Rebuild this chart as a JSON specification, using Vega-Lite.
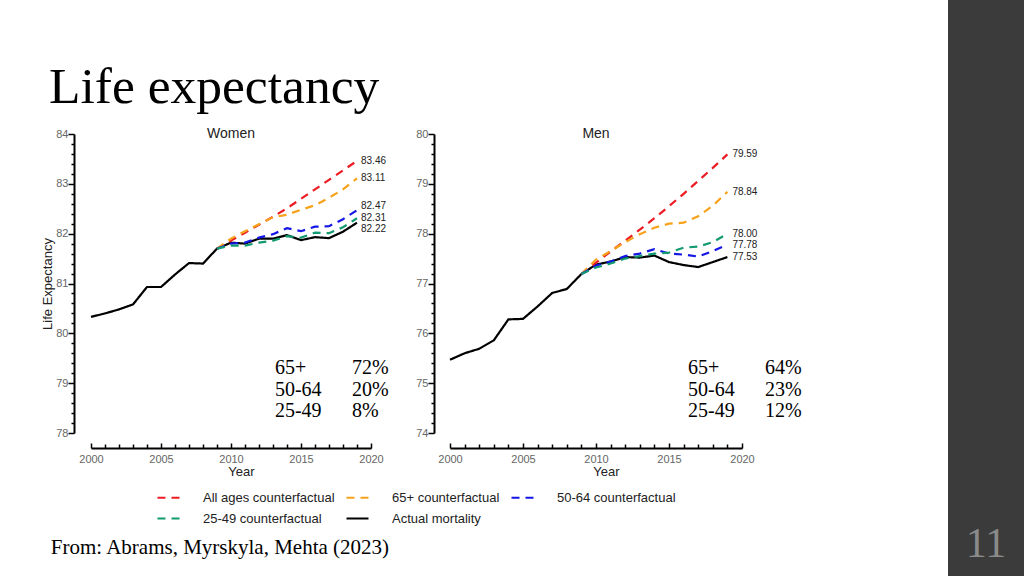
{
  "$schema": "https://vega.github.io/schema/vega-lite/v6.json",
  "padding": {"left": 41, "top": 0, "right": 0, "bottom": 0},
  "background": "white",
  "spacing": 146,
  "resolve": {"scale": {"color": "independent", "strokeDash": "independent"}, "legend": {"color": "independent", "strokeDash": "independent"}},
  "datasets": {
    "le": [
      {"sex": "Women", "series": "Actual mortality", "year": 2000, "le": 80.33},
      {"sex": "Women", "series": "Actual mortality", "year": 2001, "le": 80.40},
      {"sex": "Women", "series": "Actual mortality", "year": 2002, "le": 80.48},
      {"sex": "Women", "series": "Actual mortality", "year": 2003, "le": 80.58},
      {"sex": "Women", "series": "Actual mortality", "year": 2004, "le": 80.93},
      {"sex": "Women", "series": "Actual mortality", "year": 2005, "le": 80.93},
      {"sex": "Women", "series": "Actual mortality", "year": 2006, "le": 81.18},
      {"sex": "Women", "series": "Actual mortality", "year": 2007, "le": 81.41},
      {"sex": "Women", "series": "Actual mortality", "year": 2008, "le": 81.40},
      {"sex": "Women", "series": "Actual mortality", "year": 2009, "le": 81.70},
      {"sex": "Women", "series": "Actual mortality", "year": 2010, "le": 81.82},
      {"sex": "Women", "series": "Actual mortality", "year": 2011, "le": 81.80},
      {"sex": "Women", "series": "Actual mortality", "year": 2012, "le": 81.90},
      {"sex": "Women", "series": "Actual mortality", "year": 2013, "le": 81.90},
      {"sex": "Women", "series": "Actual mortality", "year": 2014, "le": 81.97},
      {"sex": "Women", "series": "Actual mortality", "year": 2015, "le": 81.87},
      {"sex": "Women", "series": "Actual mortality", "year": 2016, "le": 81.93},
      {"sex": "Women", "series": "Actual mortality", "year": 2017, "le": 81.91},
      {"sex": "Women", "series": "Actual mortality", "year": 2018, "le": 82.04},
      {"sex": "Women", "series": "Actual mortality", "year": 2019, "le": 82.22},
      {"sex": "Women", "series": "All ages counterfactual", "year": 2009, "le": 81.70},
      {"sex": "Women", "series": "All ages counterfactual", "year": 2010, "le": 81.86},
      {"sex": "Women", "series": "All ages counterfactual", "year": 2011, "le": 82.02},
      {"sex": "Women", "series": "All ages counterfactual", "year": 2012, "le": 82.18},
      {"sex": "Women", "series": "All ages counterfactual", "year": 2013, "le": 82.34},
      {"sex": "Women", "series": "All ages counterfactual", "year": 2014, "le": 82.51},
      {"sex": "Women", "series": "All ages counterfactual", "year": 2015, "le": 82.70},
      {"sex": "Women", "series": "All ages counterfactual", "year": 2016, "le": 82.89},
      {"sex": "Women", "series": "All ages counterfactual", "year": 2017, "le": 83.08},
      {"sex": "Women", "series": "All ages counterfactual", "year": 2018, "le": 83.27},
      {"sex": "Women", "series": "All ages counterfactual", "year": 2019, "le": 83.46},
      {"sex": "Women", "series": "65+ counterfactual", "year": 2009, "le": 81.70},
      {"sex": "Women", "series": "65+ counterfactual", "year": 2010, "le": 81.90},
      {"sex": "Women", "series": "65+ counterfactual", "year": 2011, "le": 82.05},
      {"sex": "Women", "series": "65+ counterfactual", "year": 2012, "le": 82.19},
      {"sex": "Women", "series": "65+ counterfactual", "year": 2013, "le": 82.33},
      {"sex": "Women", "series": "65+ counterfactual", "year": 2014, "le": 82.38},
      {"sex": "Women", "series": "65+ counterfactual", "year": 2015, "le": 82.48},
      {"sex": "Women", "series": "65+ counterfactual", "year": 2016, "le": 82.57},
      {"sex": "Women", "series": "65+ counterfactual", "year": 2017, "le": 82.72},
      {"sex": "Women", "series": "65+ counterfactual", "year": 2018, "le": 82.89},
      {"sex": "Women", "series": "65+ counterfactual", "year": 2019, "le": 83.11},
      {"sex": "Women", "series": "50-64 counterfactual", "year": 2009, "le": 81.70},
      {"sex": "Women", "series": "50-64 counterfactual", "year": 2010, "le": 81.80},
      {"sex": "Women", "series": "50-64 counterfactual", "year": 2011, "le": 81.82},
      {"sex": "Women", "series": "50-64 counterfactual", "year": 2012, "le": 81.92},
      {"sex": "Women", "series": "50-64 counterfactual", "year": 2013, "le": 81.99},
      {"sex": "Women", "series": "50-64 counterfactual", "year": 2014, "le": 82.11},
      {"sex": "Women", "series": "50-64 counterfactual", "year": 2015, "le": 82.05},
      {"sex": "Women", "series": "50-64 counterfactual", "year": 2016, "le": 82.14},
      {"sex": "Women", "series": "50-64 counterfactual", "year": 2017, "le": 82.15},
      {"sex": "Women", "series": "50-64 counterfactual", "year": 2018, "le": 82.29},
      {"sex": "Women", "series": "50-64 counterfactual", "year": 2019, "le": 82.47},
      {"sex": "Women", "series": "25-49 counterfactual", "year": 2009, "le": 81.70},
      {"sex": "Women", "series": "25-49 counterfactual", "year": 2010, "le": 81.76},
      {"sex": "Women", "series": "25-49 counterfactual", "year": 2011, "le": 81.76},
      {"sex": "Women", "series": "25-49 counterfactual", "year": 2012, "le": 81.82},
      {"sex": "Women", "series": "25-49 counterfactual", "year": 2013, "le": 81.86},
      {"sex": "Women", "series": "25-49 counterfactual", "year": 2014, "le": 81.95},
      {"sex": "Women", "series": "25-49 counterfactual", "year": 2015, "le": 81.92},
      {"sex": "Women", "series": "25-49 counterfactual", "year": 2016, "le": 82.02},
      {"sex": "Women", "series": "25-49 counterfactual", "year": 2017, "le": 82.01},
      {"sex": "Women", "series": "25-49 counterfactual", "year": 2018, "le": 82.13},
      {"sex": "Women", "series": "25-49 counterfactual", "year": 2019, "le": 82.31},
      {"sex": "Men", "series": "Actual mortality", "year": 2000, "le": 75.47},
      {"sex": "Men", "series": "Actual mortality", "year": 2001, "le": 75.60},
      {"sex": "Men", "series": "Actual mortality", "year": 2002, "le": 75.69},
      {"sex": "Men", "series": "Actual mortality", "year": 2003, "le": 75.86},
      {"sex": "Men", "series": "Actual mortality", "year": 2004, "le": 76.28},
      {"sex": "Men", "series": "Actual mortality", "year": 2005, "le": 76.29},
      {"sex": "Men", "series": "Actual mortality", "year": 2006, "le": 76.54},
      {"sex": "Men", "series": "Actual mortality", "year": 2007, "le": 76.81},
      {"sex": "Men", "series": "Actual mortality", "year": 2008, "le": 76.89},
      {"sex": "Men", "series": "Actual mortality", "year": 2009, "le": 77.19},
      {"sex": "Men", "series": "Actual mortality", "year": 2010, "le": 77.38},
      {"sex": "Men", "series": "Actual mortality", "year": 2011, "le": 77.44},
      {"sex": "Men", "series": "Actual mortality", "year": 2012, "le": 77.53},
      {"sex": "Men", "series": "Actual mortality", "year": 2013, "le": 77.52},
      {"sex": "Men", "series": "Actual mortality", "year": 2014, "le": 77.56},
      {"sex": "Men", "series": "Actual mortality", "year": 2015, "le": 77.43},
      {"sex": "Men", "series": "Actual mortality", "year": 2016, "le": 77.37},
      {"sex": "Men", "series": "Actual mortality", "year": 2017, "le": 77.33},
      {"sex": "Men", "series": "Actual mortality", "year": 2018, "le": 77.43},
      {"sex": "Men", "series": "Actual mortality", "year": 2019, "le": 77.53},
      {"sex": "Men", "series": "All ages counterfactual", "year": 2009, "le": 77.19},
      {"sex": "Men", "series": "All ages counterfactual", "year": 2010, "le": 77.42},
      {"sex": "Men", "series": "All ages counterfactual", "year": 2011, "le": 77.64},
      {"sex": "Men", "series": "All ages counterfactual", "year": 2012, "le": 77.86},
      {"sex": "Men", "series": "All ages counterfactual", "year": 2013, "le": 78.08},
      {"sex": "Men", "series": "All ages counterfactual", "year": 2014, "le": 78.31},
      {"sex": "Men", "series": "All ages counterfactual", "year": 2015, "le": 78.55},
      {"sex": "Men", "series": "All ages counterfactual", "year": 2016, "le": 78.80},
      {"sex": "Men", "series": "All ages counterfactual", "year": 2017, "le": 79.06},
      {"sex": "Men", "series": "All ages counterfactual", "year": 2018, "le": 79.32},
      {"sex": "Men", "series": "All ages counterfactual", "year": 2019, "le": 79.59},
      {"sex": "Men", "series": "65+ counterfactual", "year": 2009, "le": 77.19},
      {"sex": "Men", "series": "65+ counterfactual", "year": 2010, "le": 77.48},
      {"sex": "Men", "series": "65+ counterfactual", "year": 2011, "le": 77.65},
      {"sex": "Men", "series": "65+ counterfactual", "year": 2012, "le": 77.83},
      {"sex": "Men", "series": "65+ counterfactual", "year": 2013, "le": 77.99},
      {"sex": "Men", "series": "65+ counterfactual", "year": 2014, "le": 78.12},
      {"sex": "Men", "series": "65+ counterfactual", "year": 2015, "le": 78.20},
      {"sex": "Men", "series": "65+ counterfactual", "year": 2016, "le": 78.22},
      {"sex": "Men", "series": "65+ counterfactual", "year": 2017, "le": 78.35},
      {"sex": "Men", "series": "65+ counterfactual", "year": 2018, "le": 78.56},
      {"sex": "Men", "series": "65+ counterfactual", "year": 2019, "le": 78.84},
      {"sex": "Men", "series": "50-64 counterfactual", "year": 2009, "le": 77.19},
      {"sex": "Men", "series": "50-64 counterfactual", "year": 2010, "le": 77.36},
      {"sex": "Men", "series": "50-64 counterfactual", "year": 2011, "le": 77.44},
      {"sex": "Men", "series": "50-64 counterfactual", "year": 2012, "le": 77.55},
      {"sex": "Men", "series": "50-64 counterfactual", "year": 2013, "le": 77.60},
      {"sex": "Men", "series": "50-64 counterfactual", "year": 2014, "le": 77.69},
      {"sex": "Men", "series": "50-64 counterfactual", "year": 2015, "le": 77.60},
      {"sex": "Men", "series": "50-64 counterfactual", "year": 2016, "le": 77.58},
      {"sex": "Men", "series": "50-64 counterfactual", "year": 2017, "le": 77.54},
      {"sex": "Men", "series": "50-64 counterfactual", "year": 2018, "le": 77.65},
      {"sex": "Men", "series": "50-64 counterfactual", "year": 2019, "le": 77.78},
      {"sex": "Men", "series": "25-49 counterfactual", "year": 2009, "le": 77.19},
      {"sex": "Men", "series": "25-49 counterfactual", "year": 2010, "le": 77.32},
      {"sex": "Men", "series": "25-49 counterfactual", "year": 2011, "le": 77.40},
      {"sex": "Men", "series": "25-49 counterfactual", "year": 2012, "le": 77.50},
      {"sex": "Men", "series": "25-49 counterfactual", "year": 2013, "le": 77.55},
      {"sex": "Men", "series": "25-49 counterfactual", "year": 2014, "le": 77.60},
      {"sex": "Men", "series": "25-49 counterfactual", "year": 2015, "le": 77.62},
      {"sex": "Men", "series": "25-49 counterfactual", "year": 2016, "le": 77.72},
      {"sex": "Men", "series": "25-49 counterfactual", "year": 2017, "le": 77.74},
      {"sex": "Men", "series": "25-49 counterfactual", "year": 2018, "le": 77.83},
      {"sex": "Men", "series": "25-49 counterfactual", "year": 2019, "le": 78.00}
    ]
  },
  "config": {
    "view": {"stroke": null},
    "font": "Liberation Sans",
    "axis": {
      "grid": false,
      "labelFont": "Liberation Sans",
      "labelFontSize": 11,
      "labelColor": "#666666",
      "titleFont": "Liberation Sans",
      "titleFontSize": 13,
      "titleFontWeight": "normal",
      "titleColor": "#222222",
      "domainColor": "#000000",
      "domainWidth": 2,
      "tickColor": "#000000",
      "tickWidth": 1.5,
      "labelOverlap": false,
      "labelFlush": false
    },
    "legend": {
      "orient": "none",
      "legendX": 65,
      "legendY": 351,
      "direction": "horizontal",
      "columns": 3,
      "labelFont": "Liberation Sans",
      "labelFontSize": 13,
      "labelColor": "#222222",
      "symbolType": "stroke",
      "symbolSize": 484,
      "symbolStrokeWidth": 2.2,
      "labelOffset": 22,
      "columnPadding": 7,
      "rowPadding": 1,
      "labelLimit": 300
    }
  },
  "hconcat": [
    {
      "bounds": "flush",
      "spacing": 0,
      "resolve": {"scale": {"color": "independent", "strokeDash": "independent"}, "legend": {"color": "independent", "strokeDash": "independent"}},
      "vconcat": [
        {
          "width": 700,
          "height": 134,
          "data": {"values": [{}]},
          "mark": {"type": "rect", "opacity": 0},
          "title": {
            "text": "Life expectancy",
            "orient": "bottom",
            "anchor": "start",
            "baseline": "alphabetic",
            "font": "Liberation Serif",
            "fontSize": 51.5,
            "fontWeight": "normal",
            "color": "#000000",
            "offset": -31,
            "dx": -42
          }
        },
        {
          "title": {
            "text": "From: Abrams, Myrskyla, Mehta (2023)",
            "orient": "bottom",
            "anchor": "start",
            "baseline": "alphabetic",
            "font": "Liberation Serif",
            "fontSize": 21,
            "fontWeight": "normal",
            "color": "#000000",
            "offset": 28,
            "dx": 9
          },
          "data": {"name": "le"},
          "spacing": 79,
          "bounds": "flush",
          "resolve": {
            "scale": {"color": "shared", "strokeDash": "shared"},
            "legend": {"color": "shared", "strokeDash": "shared"}
          },
          "hconcat": [
            {
              "width": 280,
              "height": 299,
              "title": {"text": "Women", "font": "Liberation Sans", "fontSize": 14, "fontWeight": "normal", "color": "#222222", "offset": -13},
              "layer": [
                {
                  "transform": [{"filter": "datum.sex == 'Women' && datum.series == 'Actual mortality'"}],
                  "mark": {"type": "line", "strokeWidth": 2.2},
                  "encoding": {
                    "x": {
                      "field": "year", "type": "quantitative",
                      "scale": {"domain": [2000, 2020], "nice": false, "zero": false},
                      "axis": {
                        "title": "Year",
                        "values": [2000,2001,2002,2003,2004,2005,2006,2007,2008,2009,2010,2011,2012,2013,2014,2015,2016,2017,2018,2019,2020],
                        "tickCount": 100,
                        "labelExpr": "datum.value % 5 == 0 ? format(datum.value, 'd') : ''",
                        "labelOverlap": false,
                        "offset": 15,
                        "tickSize": {"condition": {"test": "datum.value % 5 == 0", "value": -5}, "value": -4},
                        "labelPadding": 10,
                        "titlePadding": 0,
                        "titleX": 150
                      }
                    },
                    "y": {
                      "field": "le", "type": "quantitative",
                      "scale": {"domain": [78, 84], "nice": false, "zero": false},
                      "axis": {
                        "title": "Life Expectancy",
                        "values": [78,78.2,78.4,78.6,78.8,79,79.2,79.4,79.6,79.8,80,80.2,80.4,80.6,80.8,81,81.2,81.4,81.6,81.8,82,82.2,82.4,82.6,82.8,83,83.2,83.4,83.6,83.8,84],
                        "tickCount": 100,
                        "labelExpr": "abs(datum.value - round(datum.value)) < 0.01 ? format(datum.value, 'd') : ''",
                        "labelOverlap": false,
                        "offset": 17,
                        "tickSize": {"condition": {"test": "abs(datum.value - round(datum.value)) < 0.01", "value": 6}, "value": 3},
                        "labelPadding": 0,
                        "titlePadding": 1
                      }
                    },
                    "color": {
                      "field": "series", "type": "nominal", "title": null,
                      "scale": {
                        "domain": ["All ages counterfactual", "65+ counterfactual", "50-64 counterfactual", "25-49 counterfactual", "Actual mortality"],
                        "range": ["#ec1c24", "#f7a21b", "#1515e6", "#139a70", "#000000"]
                      }
                    },
                    "strokeDash": {
                      "field": "series", "type": "nominal", "title": null,
                      "scale": {
                        "domain": ["All ages counterfactual", "65+ counterfactual", "50-64 counterfactual", "25-49 counterfactual", "Actual mortality"],
                        "range": [[8, 6], [8, 6], [8, 6], [8, 6], [1, 0]]
                      }
                    }
                  }
                },
                {
                  "transform": [{"filter": "datum.sex == 'Women' && datum.series != 'Actual mortality'"}],
                  "mark": {"type": "line", "strokeWidth": 2.2},
                  "encoding": {
                    "x": {"field": "year", "type": "quantitative"},
                    "y": {"field": "le", "type": "quantitative"},
                    "color": {"field": "series", "type": "nominal", "title": null},
                    "strokeDash": {"field": "series", "type": "nominal", "title": null}
                  }
                },
                {
                  "transform": [{"filter": "datum.sex == 'Women' && datum.year == 2019"}],
                  "mark": {
                    "type": "text", "align": "left", "baseline": "middle", "dx": 4,
                    "fontSize": 10, "font": "Liberation Sans", "color": "#222222",
                    "dy": {"expr": "datum.series == '50-64 counterfactual' ? -4 : (datum.series == 'Actual mortality' ? 6 : 0)"}
                  },
                  "encoding": {
                    "x": {"field": "year", "type": "quantitative"},
                    "y": {"field": "le", "type": "quantitative"},
                    "text": {"field": "le", "type": "quantitative", "format": ".2f"}
                  }
                },
                {
                  "data": {"values": [{}]},
                  "mark": {"type": "text", "align": "left", "baseline": "alphabetic", "font": "Liberation Serif", "fontSize": 20, "lineHeight": 21.5, "color": "#000000"},
                  "encoding": {
                    "x": {"datum": 2013.14, "type": "quantitative"},
                    "y": {"datum": 79.18, "type": "quantitative"},
                    "text": {"value": ["65+", "50-64", "25-49"]}
                  }
                },
                {
                  "data": {"values": [{}]},
                  "mark": {"type": "text", "align": "left", "baseline": "alphabetic", "font": "Liberation Serif", "fontSize": 20, "lineHeight": 21.5, "color": "#000000"},
                  "encoding": {
                    "x": {"datum": 2018.64, "type": "quantitative"},
                    "y": {"datum": 79.18, "type": "quantitative"},
                    "text": {"value": ["72%", "20%", "8%"]}
                  }
                }
              ]
            },
            {
              "width": 292,
              "height": 299,
              "title": {"text": "Men", "font": "Liberation Sans", "fontSize": 14, "fontWeight": "normal", "color": "#222222", "offset": -13},
              "layer": [
                {
                  "transform": [{"filter": "datum.sex == 'Men' && datum.series == 'Actual mortality'"}],
                  "mark": {"type": "line", "strokeWidth": 2.2},
                  "encoding": {
                    "x": {
                      "field": "year", "type": "quantitative",
                      "scale": {"domain": [2000, 2020], "nice": false, "zero": false},
                      "axis": {
                        "title": "Year",
                        "values": [2000,2001,2002,2003,2004,2005,2006,2007,2008,2009,2010,2011,2012,2013,2014,2015,2016,2017,2018,2019,2020],
                        "tickCount": 100,
                        "labelExpr": "datum.value % 5 == 0 ? format(datum.value, 'd') : ''",
                        "labelOverlap": false,
                        "offset": 15,
                        "tickSize": {"condition": {"test": "datum.value % 5 == 0", "value": -5}, "value": -4},
                        "labelPadding": 10,
                        "titlePadding": 0,
                        "titleX": 156
                      }
                    },
                    "y": {
                      "field": "le", "type": "quantitative",
                      "scale": {"domain": [74, 80], "nice": false, "zero": false},
                      "axis": {
                        "title": null,
                        "values": [74,74.2,74.4,74.6,74.8,75,75.2,75.4,75.6,75.8,76,76.2,76.4,76.6,76.8,77,77.2,77.4,77.6,77.8,78,78.2,78.4,78.6,78.8,79,79.2,79.4,79.6,79.8,80],
                        "tickCount": 100,
                        "labelExpr": "abs(datum.value - round(datum.value)) < 0.01 ? format(datum.value, 'd') : ''",
                        "labelOverlap": false,
                        "offset": 16,
                        "tickSize": {"condition": {"test": "abs(datum.value - round(datum.value)) < 0.01", "value": 6}, "value": 3},
                        "labelPadding": 0
                      }
                    },
                    "color": {"field": "series", "type": "nominal", "title": null},
                    "strokeDash": {"field": "series", "type": "nominal", "title": null}
                  }
                },
                {
                  "transform": [{"filter": "datum.sex == 'Men' && datum.series != 'Actual mortality'"}],
                  "mark": {"type": "line", "strokeWidth": 2.2},
                  "encoding": {
                    "x": {"field": "year", "type": "quantitative"},
                    "y": {"field": "le", "type": "quantitative"},
                    "color": {"field": "series", "type": "nominal", "title": null},
                    "strokeDash": {"field": "series", "type": "nominal", "title": null}
                  }
                },
                {
                  "transform": [{"filter": "datum.sex == 'Men' && datum.year == 2019"}],
                  "mark": {"type": "text", "align": "left", "baseline": "middle", "dx": 5, "fontSize": 10, "font": "Liberation Sans", "color": "#222222"},
                  "encoding": {
                    "x": {"field": "year", "type": "quantitative"},
                    "y": {"field": "le", "type": "quantitative"},
                    "text": {"field": "le", "type": "quantitative", "format": ".2f"}
                  }
                },
                {
                  "data": {"values": [{}]},
                  "mark": {"type": "text", "align": "left", "baseline": "alphabetic", "font": "Liberation Serif", "fontSize": 20, "lineHeight": 21.5, "color": "#000000"},
                  "encoding": {
                    "x": {"datum": 2016.3, "type": "quantitative"},
                    "y": {"datum": 75.18, "type": "quantitative"},
                    "text": {"value": ["65+", "50-64", "25-49"]}
                  }
                },
                {
                  "data": {"values": [{}]},
                  "mark": {"type": "text", "align": "left", "baseline": "alphabetic", "font": "Liberation Serif", "fontSize": 20, "lineHeight": 21.5, "color": "#000000"},
                  "encoding": {
                    "x": {"datum": 2021.58, "type": "quantitative"},
                    "y": {"datum": 75.18, "type": "quantitative"},
                    "text": {"value": ["64%", "23%", "12%"]}
                  }
                }
              ]
            }
          ]
        }
      ]
    },
    {
      "width": 76,
      "height": 576,
      "view": {"fill": "#3b3b3b", "stroke": null},
      "data": {"values": [{}]},
      "mark": {"type": "rect", "color": "#3b3b3b"},
      "title": {"text": "11", "orient": "bottom", "anchor": "middle", "baseline": "alphabetic", "font": "Liberation Serif", "fontSize": 42, "fontWeight": "normal", "color": "#8a8a8a", "offset": -19}
    }
  ]
}
